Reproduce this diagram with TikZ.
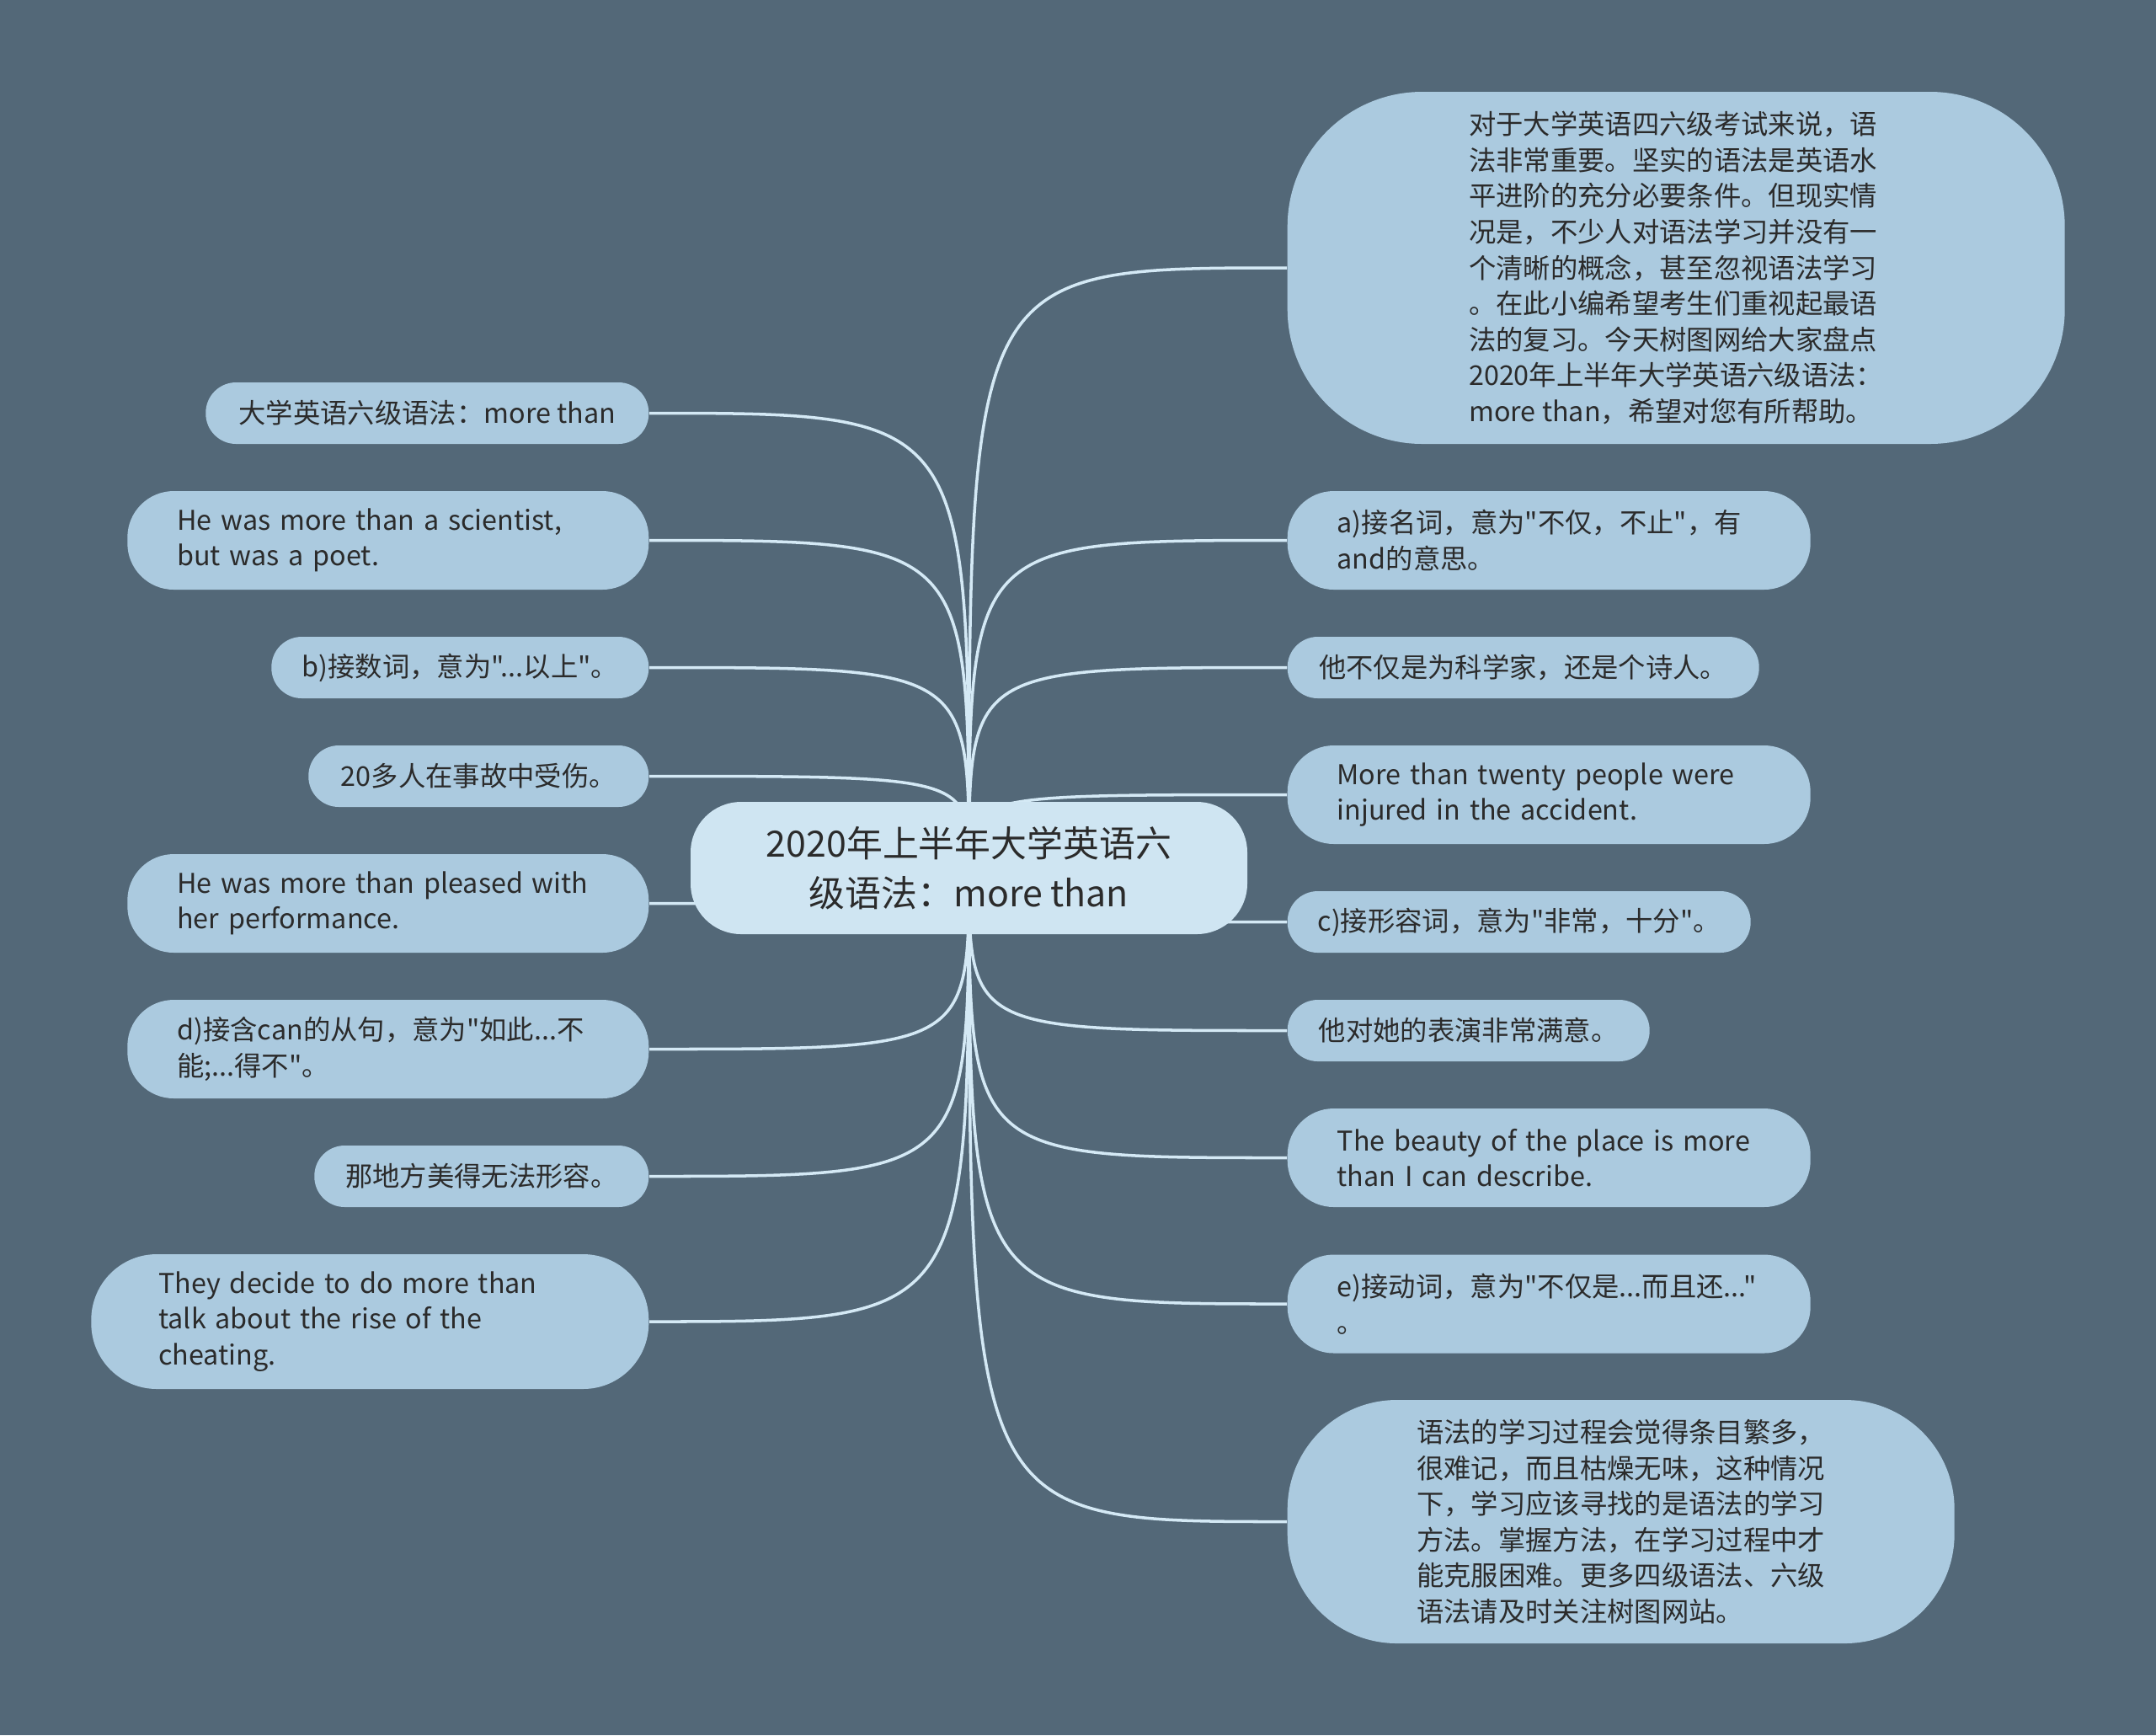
\documentclass[tikz,border=0pt]{standalone}
\usepackage{fontspec}
\setmainfont{Noto Sans CJK SC}[Ligatures=TeXOff]
\usetikzlibrary{positioning}
\definecolor{slate}{HTML}{536878}
\definecolor{leafbg}{HTML}{ABCADF}
\definecolor{rootbg}{HTML}{CFE5F2}
\definecolor{wirec}{HTML}{D4E9F5}
\definecolor{ink}{HTML}{2B2B2B}
\pgfdeclarelayer{bg}
\pgfdeclarelayer{wires}
\pgfsetlayers{bg,wires,main}

\begin{document}
\begin{tikzpicture}[font=\fontsize{9.2pt}{12.1pt}\selectfont,text=ink,
 one/.style={fill=leafbg,inner sep=0pt,minimum height=0.73cm,rounded corners=0.36cm,align=center},
 two/.style={fill=leafbg,inner xsep=0.59cm,inner ysep=0pt,minimum height=1.17cm,rounded corners=0.55cm,align=left},
 big/.style={fill=leafbg,inner sep=0pt,align=left},
 root/.style={fill=rootbg,inner sep=0pt,rounded corners=0.6cm,minimum width=6.61cm,minimum height=1.57cm,align=center,font=\fontsize{12.2pt}{16.8pt}\selectfont},
 wire/.style={draw=wirec,line width=1pt}]
\useasboundingbox (0,0) rectangle (25.6,-20.6);
\begin{pgfonlayer}{bg}
\fill[slate] (0,0) rectangle (25.6,-20.6);
\end{pgfonlayer}

\node[root] (root) at (11.505,-10.305) {2020年上半年大学英语六\\级语法：more than};

% right branch
\node[big,minimum width=9.23cm,minimum height=4.18cm,rounded corners=1.6cm,anchor=west] (r1) at (15.28,-3.18) {对于大学英语四六级考试来说，语\\法非常重要。坚实的语法是英语水\\平进阶的充分必要条件。但现实情\\况是，不少人对语法学习并没有一\\个清晰的概念，甚至忽视语法学习\\。在此小编希望考生们重视起最语\\法的复习。今天树图网给大家盘点\\2020年上半年大学英语六级语法：\\more than，希望对您有所帮助。};
\node[two,text width=5.03cm,anchor=west] (r2) at (15.28,-6.415) {a)接名词，意为"不仅，不止"，有\\and的意思。};
\node[one,minimum width=5.60cm,anchor=west] (r3) at (15.28,-7.925) {他不仅是为科学家，还是个诗人。};
\node[two,text width=5.03cm,anchor=west] (r4) at (15.28,-9.435) {More than twenty people were\\injured in the accident.};
\node[one,minimum width=5.50cm,anchor=west] (r5) at (15.28,-10.945) {c)接形容词，意为"非常，十分"。};
\node[one,minimum width=4.30cm,anchor=west] (r6) at (15.28,-12.235) {他对她的表演非常满意。};
\node[two,text width=5.03cm,anchor=west] (r7) at (15.28,-13.745) {The beauty of the place is more\\than I can describe.};
\node[two,text width=5.03cm,anchor=west] (r8) at (15.28,-15.48) {e)接动词，意为"不仅是...而且还..."\\。};
\node[big,minimum width=7.92cm,minimum height=2.89cm,rounded corners=1.3cm,anchor=west] (r9) at (15.28,-18.065) {语法的学习过程会觉得条目繁多，\\很难记，而且枯燥无味，这种情况\\下，学习应该寻找的是语法的学习\\方法。掌握方法，在学习过程中才\\能克服困难。更多四级语法、六级\\语法请及时关注树图网站。};

% left branch
\node[one,minimum width=5.26cm,anchor=east] (l1) at (7.71,-4.905) {大学英语六级语法：more than};
\node[two,text width=5.01cm,anchor=east] (l2) at (7.71,-6.415) {He was more than a scientist,\\but was a poet.};
\node[one,minimum width=4.48cm,anchor=east] (l3) at (7.71,-7.925) {b)接数词，意为"...以上"。};
\node[one,minimum width=4.04cm,anchor=east] (l4) at (7.71,-9.215) {20多人在事故中受伤。};
\node[two,text width=5.01cm,anchor=east] (l5) at (7.71,-10.725) {He was more than pleased with\\her performance.};
\node[two,text width=5.01cm,anchor=east] (l6) at (7.71,-12.455) {d)接含can的从句，意为"如此...不\\能;...得不"。};
\node[one,minimum width=3.97cm,anchor=east] (l7) at (7.71,-13.965) {那地方美得无法形容。};
\node[two,text width=5.02cm,inner xsep=0.8cm,minimum height=1.6cm,rounded corners=0.78cm,anchor=east] (l8) at (7.71,-15.69) {They decide to do more than\\talk about the rise of the\\cheating.};

\begin{pgfonlayer}{wires}
\draw[wire] (root.center) .. controls (root.center |- r1.west) .. (r1.west);
\draw[wire] (root.center) .. controls (root.center |- r2.west) .. (r2.west);
\draw[wire] (root.center) .. controls (root.center |- r3.west) .. (r3.west);
\draw[wire] (root.center) .. controls (root.center |- r4.west) .. (r4.west);
\draw[wire] (root.center) .. controls (root.center |- r5.west) .. (r5.west);
\draw[wire] (root.center) .. controls (root.center |- r6.west) .. (r6.west);
\draw[wire] (root.center) .. controls (root.center |- r7.west) .. (r7.west);
\draw[wire] (root.center) .. controls (root.center |- r8.west) .. (r8.west);
\draw[wire] (root.center) .. controls (root.center |- r9.west) .. (r9.west);
\draw[wire] (root.center) .. controls (root.center |- l1.east) .. (l1.east);
\draw[wire] (root.center) .. controls (root.center |- l2.east) .. (l2.east);
\draw[wire] (root.center) .. controls (root.center |- l3.east) .. (l3.east);
\draw[wire] (root.center) .. controls (root.center |- l4.east) .. (l4.east);
\draw[wire] (root.center) .. controls (root.center |- l5.east) .. (l5.east);
\draw[wire] (root.center) .. controls (root.center |- l6.east) .. (l6.east);
\draw[wire] (root.center) .. controls (root.center |- l7.east) .. (l7.east);
\draw[wire] (root.center) .. controls (root.center |- l8.east) .. (l8.east);
\end{pgfonlayer}
\end{tikzpicture}
\end{document}
